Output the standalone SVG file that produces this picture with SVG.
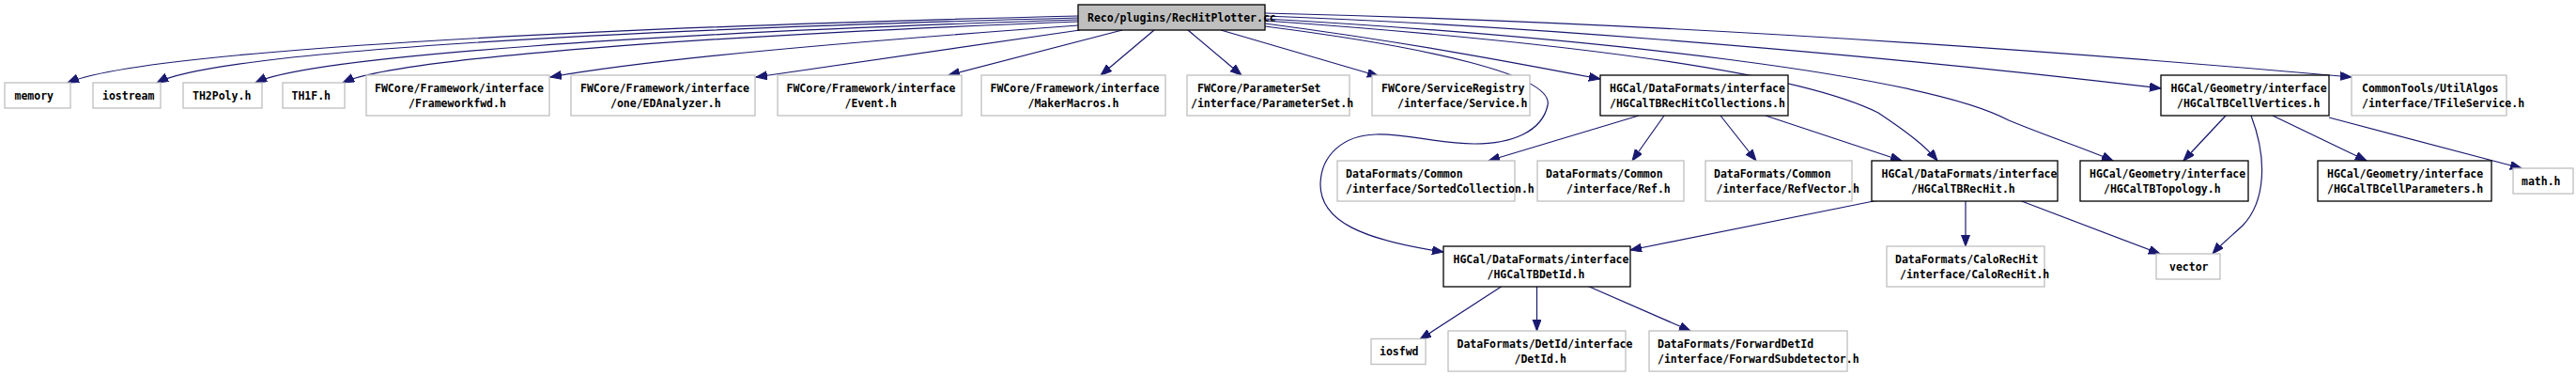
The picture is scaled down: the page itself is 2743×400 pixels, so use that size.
<svg xmlns="http://www.w3.org/2000/svg" width="2743" height="400" viewBox="0 0 2743 400">
<defs>
<marker id="ah" markerWidth="13" markerHeight="10" refX="12" refY="4.5" orient="auto" markerUnits="userSpaceOnUse"><path d="M0,0 L12,4.5 L0,9 z" fill="#191970" stroke="#191970" stroke-width="1"/></marker>
<style>
.ext rect{fill:#ffffff;stroke:#bfbfbf;stroke-width:1.3}
.int rect{fill:#ffffff;stroke:#000000;stroke-width:1.3}
.root rect{fill:#bfbfbf;stroke:#000000;stroke-width:1.3}
text{font-family:"DejaVu Sans Mono","Liberation Mono",monospace;font-size:11.5px;font-weight:bold;fill:#000000}
#edges path{fill:none;stroke:#191970;stroke-width:1.2;marker-end:url(#ah)}
</style>
</defs>
<rect width="2743" height="400" fill="#ffffff"/>
<g id="edges">
<path d="M1148,17 C600,30 150,55 72,88"/>
<path d="M1148,19 C650,32 230,55 167,88"/>
<path d="M1148,21 C700,35 330,60 272,88"/>
<path d="M1148,23 C750,38 420,62 365,88"/>
<path d="M1148,27 C900,45 700,62 586,82"/>
<path d="M1150,32 L805,82"/>
<path d="M1195,32 L1010,80"/>
<path d="M1229,32 L1172,80"/>
<path d="M1265,32 L1322,80"/>
<path d="M1300,32 L1468,81"/>
<path d="M1347,25 C1500,45 1620,68 1704,84"/>
<path d="M1347,28 C1520,50 1655,80 1648,112 C1642,140 1610,153 1570,153 C1530,153 1500,142 1465,143 C1430,144 1407,165 1406,195 C1405,235 1450,255 1537,268"/>
<path d="M1347,22 C1600,40 1900,70 2000,120 C2030,140 2050,155 2063,171"/>
<path d="M1347,20 C1700,40 2050,80 2139,128 C2180,145 2220,158 2250,171"/>
<path d="M1347,17 C1700,30 2100,70 2301,94"/>
<path d="M1347,14 C1800,25 2200,55 2504,82"/>
<path d="M1745,123 L1585,171"/>
<path d="M1772,123 L1738,171"/>
<path d="M1832,123 L1870,171"/>
<path d="M1880,123 L2025,171"/>
<path d="M2370,123 L2325,171"/>
<path d="M2397,123 C2415,170 2412,215 2388,240 C2375,252 2365,260 2356,270"/>
<path d="M2420,123 L2520,171"/>
<path d="M2480,125 L2685,179"/>
<path d="M2000,213 L1736,266"/>
<path d="M2093,213 L2093,262"/>
<path d="M2150,213 L2300,270"/>
<path d="M1600,304 L1512,361"/>
<path d="M1636.5,304 L1636.5,352"/>
<path d="M1690,304 L1800,352"/>
</g>
<g id="n_root" class="root"><rect x="1148" y="5" width="199" height="27"/><text x="1158" y="22.5">Reco/plugins/RecHitPlotter.cc</text></g>
<g id="n_memory" class="ext"><rect x="5" y="88" width="70" height="27"/><text x="15.5" y="105.5">memory</text></g>
<g id="n_iostream" class="ext"><rect x="99" y="88" width="72" height="27"/><text x="109" y="105.5">iostream</text></g>
<g id="n_th2poly" class="ext"><rect x="195" y="88" width="84" height="27"/><text x="205" y="105.5">TH2Poly.h</text></g>
<g id="n_th1f" class="ext"><rect x="301" y="88" width="66" height="27"/><text x="310.5" y="105.5">TH1F.h</text></g>
<g id="n_fwd" class="ext"><rect x="390" y="80" width="195" height="43"/><text x="399" y="97.5">FWCore/Framework/interface</text><text x="435" y="113.5">/Frameworkfwd.h</text></g>
<g id="n_edan" class="ext"><rect x="608" y="80" width="196" height="43"/><text x="618" y="97.5">FWCore/Framework/interface</text><text x="650" y="113.5">/one/EDAnalyzer.h</text></g>
<g id="n_event" class="ext"><rect x="828" y="80" width="196" height="43"/><text x="837.5" y="97.5">FWCore/Framework/interface</text><text x="899.5" y="113.5">/Event.h</text></g>
<g id="n_maker" class="ext"><rect x="1045" y="80" width="196" height="43"/><text x="1054.5" y="97.5">FWCore/Framework/interface</text><text x="1094.5" y="113.5">/MakerMacros.h</text></g>
<g id="n_pset" class="ext"><rect x="1264" y="80" width="173" height="43"/><text x="1275" y="97.5">FWCore/ParameterSet</text><text x="1268" y="113.5">/interface/ParameterSet.h</text></g>
<g id="n_service" class="ext"><rect x="1461" y="80" width="168" height="43"/><text x="1471" y="97.5">FWCore/ServiceRegistry</text><text x="1488" y="113.5">/interface/Service.h</text></g>
<g id="n_rhcoll" class="int"><rect x="1704" y="80" width="200" height="43"/><text x="1714" y="97.5">HGCal/DataFormats/interface</text><text x="1714" y="113.5">/HGCalTBRecHitCollections.h</text></g>
<g id="n_cellvert" class="int"><rect x="2301" y="80" width="179" height="43"/><text x="2311.5" y="97.5">HGCal/Geometry/interface</text><text x="2318" y="113.5">/HGCalTBCellVertices.h</text></g>
<g id="n_tfile" class="ext"><rect x="2504" y="80" width="165" height="43"/><text x="2515" y="97.5">CommonTools/UtilAlgos</text><text x="2515" y="113.5">/interface/TFileService.h</text></g>
<g id="n_sorted" class="ext"><rect x="1424" y="171" width="189" height="43"/><text x="1433" y="188.5">DataFormats/Common</text><text x="1433" y="204.5">/interface/SortedCollection.h</text></g>
<g id="n_ref" class="ext"><rect x="1637" y="171" width="156" height="43"/><text x="1646" y="188.5">DataFormats/Common</text><text x="1668" y="204.5">/interface/Ref.h</text></g>
<g id="n_refvec" class="ext"><rect x="1816" y="171" width="156" height="43"/><text x="1825" y="188.5">DataFormats/Common</text><text x="1827.5" y="204.5">/interface/RefVector.h</text></g>
<g id="n_rechit" class="int"><rect x="1993" y="171" width="198" height="43"/><text x="2003.5" y="188.5">HGCal/DataFormats/interface</text><text x="2035" y="204.5">/HGCalTBRecHit.h</text></g>
<g id="n_topo" class="int"><rect x="2215" y="171" width="179" height="43"/><text x="2225" y="188.5">HGCal/Geometry/interface</text><text x="2240" y="204.5">/HGCalTBTopology.h</text></g>
<g id="n_cellpar" class="int"><rect x="2468" y="171" width="185" height="43"/><text x="2478" y="188.5">HGCal/Geometry/interface</text><text x="2478" y="204.5">/HGCalTBCellParameters.h</text></g>
<g id="n_math" class="ext"><rect x="2676" y="179" width="64" height="27"/><text x="2685" y="196.5">math.h</text></g>
<g id="n_detid" class="int"><rect x="1537" y="262" width="199" height="43"/><text x="1547.5" y="279.5">HGCal/DataFormats/interface</text><text x="1583.5" y="295.5">/HGCalTBDetId.h</text></g>
<g id="n_calo" class="ext"><rect x="2009" y="262" width="168" height="43"/><text x="2018" y="279.5">DataFormats/CaloRecHit</text><text x="2023" y="295.5">/interface/CaloRecHit.h</text></g>
<g id="n_vector" class="ext"><rect x="2296" y="270" width="68" height="27"/><text x="2310" y="287.5">vector</text></g>
<g id="n_iosfwd" class="ext"><rect x="1460" y="360.5" width="58" height="27"/><text x="1469" y="377.5">iosfwd</text></g>
<g id="n_detidh" class="ext"><rect x="1542" y="352" width="189" height="43"/><text x="1551.5" y="369.5">DataFormats/DetId/interface</text><text x="1612.5" y="385.5">/DetId.h</text></g>
<g id="n_fwdsub" class="ext"><rect x="1756" y="352" width="211" height="43"/><text x="1765" y="369.5">DataFormats/ForwardDetId</text><text x="1765" y="385.5">/interface/ForwardSubdetector.h</text></g>
</svg>
